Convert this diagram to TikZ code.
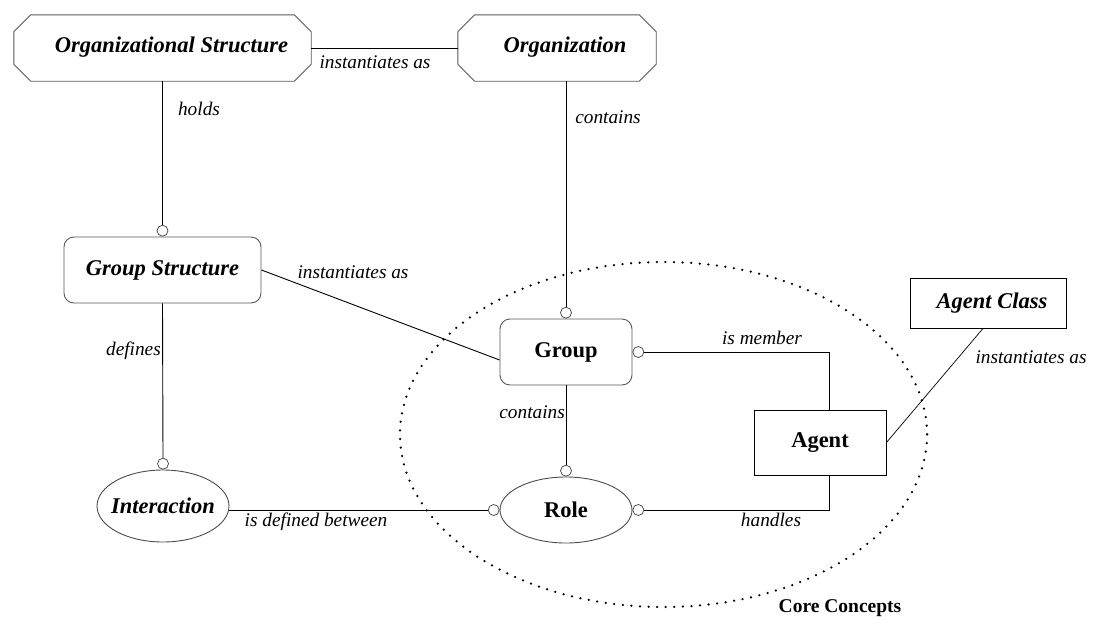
\documentclass[tikz,border=0pt]{standalone}
\usepackage{fontspec}
\setmainfont{Liberation Serif}
\usetikzlibrary{shapes.geometric,calc}
\newcommand\bibig{\fontsize{22.5}{26}\selectfont\bfseries\itshape}
\newcommand\bbig{\fontsize{22.5}{26}\selectfont\bfseries}
\newcommand\lblfont{\fontsize{19.3}{22}\selectfont\itshape}
\newcommand\octoutline[1]{%
  \draw[octline] ([xshift=17pt]#1.north west) -- ([xshift=-17pt]#1.north east)
    -- ([yshift=-17pt]#1.north east) -- ([yshift=17pt]#1.south east)
    -- ([xshift=-17pt]#1.south east) -- ([xshift=17pt]#1.south west)
    -- ([yshift=17pt]#1.south west) -- ([yshift=-17pt]#1.north west) -- cycle;}
\begin{document}
\begin{tikzpicture}[x=1pt,y=-1pt,
  octbox/.style={rectangle, minimum height=66pt, inner sep=0pt, font=\bibig},
  octline/.style={draw=black!65, line width=0.9pt, line join=miter},
  rbox/.style={rectangle, rounded corners=10pt, draw=black!65, line width=0.9pt, minimum height=66pt, inner sep=0pt},
  sbox/.style={rectangle, draw=black, line width=0.9pt, inner sep=0pt},
  ebox/.style={ellipse, draw=black!70, line width=0.9pt, inner sep=0pt},
  circ/.style={circle, draw=black!75, fill=white, minimum size=11pt, inner sep=0pt, line width=0.7pt},
  conn/.style={draw=black, line width=0.9pt},
  lbl/.style={font=\lblfont, inner sep=0pt}]
\useasboundingbox (0,0) rectangle (1108,632);

% dotted region
\draw[line width=2.5pt, line cap=round, dash pattern=on 0pt off 8.6pt] (663.5,434.5) ellipse [x radius=263.5, y radius=172.5];
\node[font=\fontsize{19.5}{22}\selectfont\bfseries, inner sep=0pt] (cc) at (840,608) {Core Concepts};

% nodes
\node[octbox, minimum width=297pt] (os) at (162.5,48) {\hspace*{18pt}Organizational Structure\rule[-6pt]{0pt}{6pt}};
\octoutline{os}
\node[octbox, minimum width=198pt] (org) at (557,48) {\hspace*{16pt}Organization\rule[-6pt]{0pt}{6pt}};
\octoutline{org}
\node[rbox, minimum width=197pt, font=\bibig] (gs) at (162.5,270) {Group Structure};
\node[rbox, minimum width=132pt, font=\bbig] (grp) at (566,352) {Group};
\node[sbox, minimum width=132pt, minimum height=65pt, font=\bbig] (agent) at (820,442.5) {Agent};
\node[sbox, minimum width=156pt, minimum height=50pt, font=\bibig] (ac) at (988,303) {\hspace*{8pt}Agent Class};
\node[ebox, minimum width=132pt, minimum height=66pt, font=\bbig] (role) at (566,510) {\makebox[0pt]{Role}};
\node[ebox, minimum width=132pt, minimum height=72pt, font=\bibig] (inter) at (163,506) {\makebox[0pt]{Interaction}};

% circles
\node[circ, anchor=south] (c1) at (gs.north) {};
\node[circ, anchor=south] (c2) at (grp.north) {};
\node[circ, anchor=south] (c3) at (inter.north) {};
\node[circ, anchor=south] (c4) at (role.north) {};
\node[circ, anchor=west] (c5) at (grp.east) {};
\node[circ, anchor=west] (c6) at (role.east) {};
\node[circ, anchor=east] (c7) at (role.west) {};

% connectors
\draw[conn] (os.east) -- (org.west);
\draw[conn] (os.south) -- (c1.north);
\draw[conn] (c2.north |- org.south) -- (c2.north);
\draw[conn] (gs.east) -- ([yshift=-8pt]grp.west);
\draw[conn] (gs.south) -- (c3.north);
\draw[conn] (grp.south) -- (c4.north);
\draw[conn] (c5.east) -| ([xshift=9pt]agent.north);
\draw[conn] (c6.east) -| ([xshift=9pt]agent.south);
\draw[conn] (c7.west -| inter.east) -- (c7.west);
\draw[conn, line width=0.7pt] ([xshift=-5pt]ac.south) -- (agent.east);

% labels
\node[lbl] (l1) at (375,62) {instantiates as};
\node[lbl] (l2) at (199,109) {holds};
\node[lbl] (l3) at (608,117) {contains};
\node[lbl] (l4) at (353,272) {instantiates as};
\node[lbl, anchor=east] (l5) at (161,351) {defines};
\node[lbl, anchor=east] (l6) at (565,412) {contains};
\node[lbl] (l7) at (762,338) {is member};
\node[lbl] (l8) at (771,520) {handles};
\node[lbl] (l9) at (316,522) {is defined between};
\node[lbl] (l10) at (1031,357) {instantiates as};
\end{tikzpicture}
\end{document}
